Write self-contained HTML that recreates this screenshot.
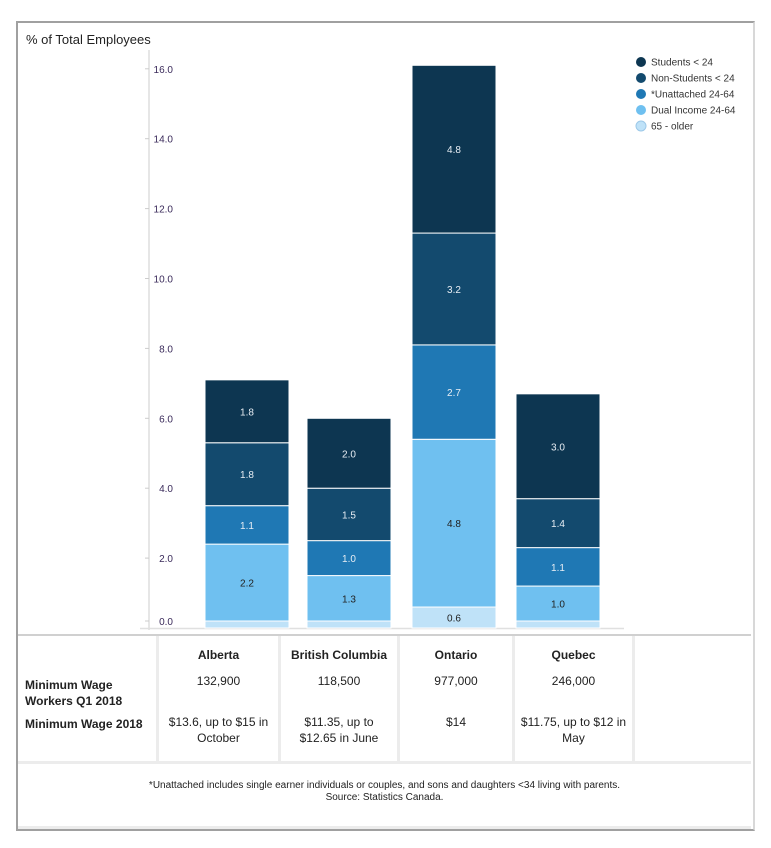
<!DOCTYPE html>
<html><head><meta charset="utf-8"><style>
body{margin:0;background:#fff;font-family:"Liberation Sans",sans-serif;}
#wrap{position:absolute;left:16px;top:21px;width:735px;height:806px;border:2px solid #a0a0a0;border-right:2px solid #d8d8d8;background:#fff;}
#title{position:absolute;left:8px;top:9px;font-size:13px;color:#222;}
svg text{font-family:"Liberation Sans",sans-serif;}
.cell{position:absolute;text-align:center;font-size:12px;color:#222;line-height:16px;}
.sep{position:absolute;background:#ececec;}
</style></head><body>
<div id="wrap">
<div id="title">% of Total Employees</div>
</div>
<svg id="chart" width="771" height="640" style="position:absolute;left:0;top:0"></svg>
<div class="sep" style="left:18px;top:634px;width:733px;height:2px;background:#d0d0d0"></div>
<div class="sep" style="left:156px;top:636px;width:3px;height:126px"></div>
<div class="sep" style="left:278px;top:636px;width:3px;height:126px"></div>
<div class="sep" style="left:397px;top:636px;width:3px;height:126px"></div>
<div class="sep" style="left:512px;top:636px;width:3px;height:126px"></div>
<div class="sep" style="left:632px;top:636px;width:3px;height:126px"></div>
<div class="sep" style="left:18px;top:761px;width:733px;height:3px"></div>
<div class="sep" style="left:18px;top:826px;width:733px;height:3px"></div>
<div class="cell" style="left:25px;top:677px;text-align:left;font-weight:bold">Minimum Wage<br>Workers Q1 2018</div>
<div class="cell" style="left:25px;top:716px;text-align:left;font-weight:bold">Minimum Wage 2018</div>
<div id="tbl"></div>
<div class="cell" style="left:18px;top:780px;width:733px;font-size:10px;line-height:12px">*Unattached includes single earner individuals or couples, and sons and daughters &lt;34 living with parents.<br>Source: Statistics Canada.</div>
<script>
const categories=["Alberta","British Columbia","Ontario","Quebec"];
const seriesNames=["65 - older","Dual Income 24-64","*Unattached 24-64","Non-Students < 24","Students < 24"];
const older65=[0.2,0.2,0.6,0.2];
const dualIncome=[2.2,1.3,4.8,1.0];
const unattached=[1.1,1.0,2.7,1.1];
const nonStudents=[1.8,1.5,3.2,1.4];
const students=[1.8,2.0,4.8,3.0];
const yTicks=[0,2,4,6,8,10,12,14,16];
const workers=["132,900","118,500","977,000","246,000"];
const wages=["$13.6, up to $15 in October","$11.35, up to $12.65 in June","$14","$11.75, up to $12 in May"];
const colors=["#bfe2f8","#6fc0f0","#1f78b4","#134a6e","#0d3651"];
const series=[older65,dualIncome,unattached,nonStudents,students];
const NS="http://www.w3.org/2000/svg";
const svg=document.getElementById('chart');
const y=v=>628-v*34.95;
const barX=[205,307,412,516], barW=84;
function mk(t,a){const e=document.createElementNS(NS,t);for(const k in a)e.setAttribute(k,a[k]);svg.appendChild(e);return e;}
let e=mk('line',{x1:149,y1:50,x2:149,y2:630,stroke:'#e6e6e6','stroke-width':2});

e=mk('line',{x1:140,y1:628.5,x2:624,y2:628.5,stroke:'#e0e0e0','stroke-width':1.5});

yTicks.forEach(t=>{
 const yy=t===0?621:y(t);
 const tx=mk('text',{x:173,y:yy+4,'font-size':10,fill:'#3a2a5a','text-anchor':'end'});tx.textContent=t.toFixed(1);
 
 mk('line',{x1:145,y1:yy,x2:149,y2:yy,stroke:'#ccc'});
});
categories.forEach((c,i)=>{
 let base=0;
 series.forEach((s,j)=>{
  const v=s[i];
  const r=mk('rect',{x:barX[i],y:y(base+v),width:barW,height:y(base)-y(base+v),fill:colors[j],stroke:'#fff','stroke-width':1});
  
  
  if(v>=0.5){
   const t=mk('text',{x:barX[i]+barW/2,y:(y(base)+y(base+v))/2+4,'font-size':10,'text-anchor':'middle',fill:j<=1?'#222':'#e8eef4'});
   t.textContent=v.toFixed(1);
   
  }
  base+=v;
 });
});
const lg=[...seriesNames].reverse(), lc=[...colors].reverse();
lg.forEach((n,k)=>{
 const yy=62+k*16;
 const c=mk('circle',{cx:641,cy:yy,r:5,fill:lc[k],stroke:k==4?'#9cc8e8':'none'});
 
 const t=mk('text',{x:651,y:yy+3.5,'font-size':10,fill:'#333'});t.textContent=n;
 
});
const tbl=document.getElementById('tbl');
const colX=[159,281,400,515], colW=[119,116,112,117];
categories.forEach((c,i)=>{
 [[c,647,'bold'],[workers[i],673,'normal'],[wages[i],714,'normal']].forEach(([txt,top,fw],k)=>{
  const d=document.createElement('div');d.className='cell';
  d.style.cssText=`left:${colX[i]}px;top:${top}px;width:${colW[i]}px;font-weight:${fw};padding:0 4px;box-sizing:border-box`;
  d.textContent=txt;
  
  
  tbl.appendChild(d);
 });
});
</script>
</body></html>
